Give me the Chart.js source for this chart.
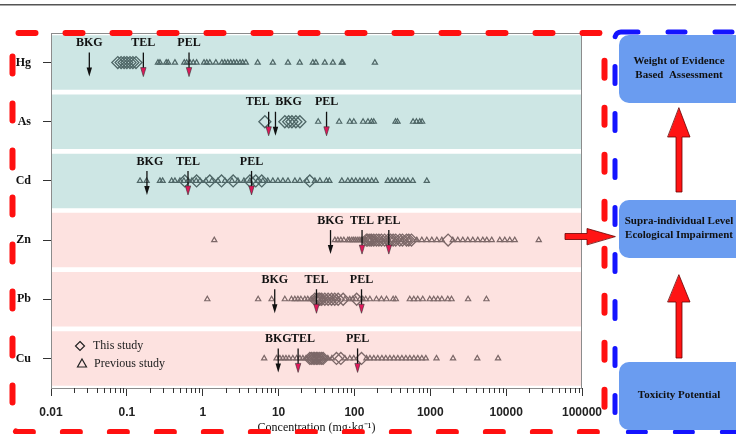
<!DOCTYPE html>
<html><head><meta charset="utf-8">
<script src="https://cdn.jsdelivr.net/npm/chart.js@4"></script>
<style>html,body{margin:0;padding:0;background:#fff;overflow:hidden}#wrap{position:relative;width:736px;height:434px}</style>
</head><body><div id="wrap"><canvas id="c" width="736" height="434"></canvas></div>
<script>
const metals = ['Hg','As','Cd','Zn','Pb','Cu'];

const hgThis = [0.076, 0.084, 0.092, 0.1, 0.11, 0.12, 0.132];
const hgPrev = [0.257, 0.273, 0.33, 0.35, 0.43, 0.571, 0.614, 0.678, 0.75, 0.83, 1.04, 1.13, 1.24, 1.49, 1.79, 1.95, 2.14, 2.34, 2.56, 2.8, 3.1, 3.36, 3.7, 5.3, 8.4, 13.3, 19, 28.3, 31, 40.7, 52, 68, 70, 186];
const asThis = [6.6, 12.1, 13.6, 15.0, 16.9, 19.1];
const asPrev = [33.3, 62.9, 86.9, 98.2, 130, 151, 168, 180, 348, 370, 593, 657, 727, 780];
const cdThis = [0.58, 0.83, 1.24, 1.77, 2.52, 4.19, 5.0, 6.0, 25.8];
const cdPrev = [0.149, 0.182, 0.273, 0.296, 0.389, 0.43, 0.5, 0.565, 0.638, 0.72, 0.82, 0.919, 1.1, 1.32, 1.59, 1.96, 2.43, 2.91, 3.49, 4.19, 5.3, 6.2, 7.2, 8.4, 9.8, 11.4, 13.3, 16.4, 19.1, 23.6, 30.1, 35, 42.7, 46.7, 68.2, 81.8, 92.4, 104, 118, 133, 150, 169, 191, 275, 311, 351, 396, 448, 505, 588, 899];
const znThis = [144, 150, 160, 168, 180, 195, 210, 227, 250, 278, 300, 324, 350, 396, 430, 486, 520, 565, 1718];
const znPrev = [1.42, 55.2, 60.4, 66.2, 72.5, 81.8, 86, 92.4, 98, 104, 111, 118, 125, 133, 140, 160, 190, 230, 280, 340, 420, 520, 664, 773, 899, 1047, 1219, 1419, 1978, 2302, 2680, 3119, 3631, 4227, 4920, 5550, 6457, 8241, 9590, 11150, 12980, 26900];
const pbThis = [30.1, 32, 34, 35, 37, 40.7, 45, 49.9, 55, 61, 71, 107];
const pbPrev = [1.15, 5.38, 8.1, 12.1, 14.8, 16.4, 18, 19.7, 22.2, 24.3, 27, 30, 33, 38, 44, 52, 60, 75, 87, 95, 104, 118, 129, 141, 160, 195, 227, 265, 324, 351, 537, 607, 684, 796, 984, 1112, 1256, 1419, 1702, 1906, 3150, 5500];
const cuThis = [25.8, 27, 28.6, 30, 31.6, 33, 35, 37, 38.7, 58, 66.2, 124];
const cuPrev = [6.46, 9.4, 10.4, 11.4, 12.5, 13.7, 15.4, 17.3, 19.1, 20.9, 23, 26, 30, 34, 38, 44.6, 50.4, 74.8, 86.9, 98, 144, 160, 180, 203, 230, 259, 293, 330, 373, 422, 476, 537, 607, 684, 773, 873, 1207, 1995, 4160, 7820];

const bkg = [0.032, 9.1, 0.184, 48.4, 8.9, 9.9];
const tel = [0.165, 7.4, 0.64, 126, 31.6, 18.1];
const pel = [0.66, 42.9, 4.4, 284, 124, 110];
const guideNames = ['BKG', 'TEL', 'PEL'];

const xTickValues = [0.01, 0.1, 1, 10, 100, 1000, 10000, 100000];
const xTickLabels = ['0.01', '0.1', '1', '10', '100', '1000', '10000', '100000'];
const xTitle = 'Concentration (mg\u00B7kg\u207B\u00B9)';
const legendLabels = ['This study', 'Previous study'];
const flowLabels = [['Weight of Evidence', 'Based  Assessment'], ['Supra-individual Level', 'Ecological Impairment'], ['Toxicity Potential']];

const thisStudy = [hgThis, asThis, cdThis, znThis, pbThis, cuThis];
const prevStudy = [hgPrev, asPrev, cdPrev, znPrev, pbPrev, cuPrev];
const bandColors = ['#cde6e4', '#cde6e4', '#cde6e4', '#fde2e0', '#fde2e0', '#fde2e0'];
const markerColors = ['#4f6767', '#4f6767', '#4f6767', '#7c6868', '#7c6868', '#7c6868'];
const labelShift = { As: { TEL: -11, BKG: 13 }, Cu: { TEL: 5 }, Cd: { BKG: 3 } };

const SERIF = '"Liberation Serif", "Times New Roman", serif';
const SANS = '"Liberation Sans", Arial, sans-serif';

const xAllTicks = [];
xTickValues.forEach((d, i) => {
  xAllTicks.push(d);
  if (i < xTickValues.length - 1) for (let k = 2; k <= 9; k++) xAllTicks.push(parseFloat((d * k).toPrecision(4)));
});

const datasets = [];
metals.forEach((m, i) => {
  datasets.push({
    type: 'scatter', label: m + ' this study',
    data: thisStudy[i].map(v => ({ x: v, y: m })),
    pointStyle: 'rectRot', pointRadius: 6, pointBorderWidth: 1.3,
    pointBorderColor: markerColors[i], pointBackgroundColor: 'rgba(0,0,0,0)',
    order: 1
  });
  datasets.push({
    type: 'scatter', label: m + ' previous study',
    data: prevStudy[i].map(v => ({ x: v, y: m })),
    pointStyle: 'triangle', pointRadius: 3, pointBorderWidth: 1.2,
    pointBorderColor: markerColors[i], pointBackgroundColor: 'rgba(0,0,0,0)',
    order: 2
  });
});
datasets.push({
  type: 'bar', indexAxis: 'y', label: 'band',
  data: metals.map(() => [xTickValues[0], xTickValues[xTickValues.length - 1]]),
  backgroundColor: bandColors, borderWidth: 0,
  barPercentage: 0.92, categoryPercentage: 1, order: 10
});

function rr(ctx, x, y, w, h, r) {
  ctx.beginPath();
  ctx.moveTo(x + r, y);
  ctx.lineTo(x + w - r, y); ctx.arcTo(x + w, y, x + w, y + r, r);
  ctx.lineTo(x + w, y + h - r); ctx.arcTo(x + w, y + h, x + w - r, y + h, r);
  ctx.lineTo(x + r, y + h); ctx.arcTo(x, y + h, x, y + h - r, r);
  ctx.lineTo(x, y + r); ctx.arcTo(x, y, x + r, y, r);
  ctx.closePath();
}
function upArrow(ctx, cx, tip, headBase, bottom) {
  ctx.beginPath();
  ctx.moveTo(cx, tip);
  ctx.lineTo(cx + 11, headBase); ctx.lineTo(cx + 3, headBase); ctx.lineTo(cx + 3, bottom);
  ctx.lineTo(cx - 3, bottom); ctx.lineTo(cx - 3, headBase); ctx.lineTo(cx - 11, headBase);
  ctx.closePath();
  ctx.fillStyle = '#ff1414'; ctx.fill();
  ctx.strokeStyle = '#6a0000'; ctx.lineWidth = 0.8; ctx.stroke();
}

const deco = {
  id: 'deco',
  afterDatasetsDraw(chart) {
    const ctx = chart.ctx, ca = chart.chartArea;
    const xs = chart.scales.x, ys = chart.scales.y;
    ctx.save();
    ctx.strokeStyle = '#8c8c8c'; ctx.lineWidth = 1;
    ctx.strokeRect(ca.left + 0.5, ca.top + 0.5, ca.right - ca.left - 1, ca.bottom - ca.top);
    ctx.strokeStyle = '#333'; ctx.lineWidth = 1;
    xAllTicks.forEach(v => {
      if (xTickValues.includes(v)) return;
      const px = Math.round(xs.getPixelForValue(v)) + 0.5;
      ctx.beginPath(); ctx.moveTo(px, ca.bottom); ctx.lineTo(px, ca.bottom + 5); ctx.stroke();
    });
    metals.forEach((m, i) => {
      const yc = ys.getPixelForValue(i);
      [bkg, tel, pel].forEach((arr, k) => {
        const name = guideNames[k];
        const x = xs.getPixelForValue(arr[i]);
        ctx.strokeStyle = '#111'; ctx.lineWidth = 1.3;
        ctx.beginPath(); ctx.moveTo(x, yc - 10); ctx.lineTo(x, yc + 6); ctx.stroke();
        ctx.beginPath();
        ctx.moveTo(x - 2.7, yc + 5); ctx.lineTo(x + 2.7, yc + 5); ctx.lineTo(x, yc + 14); ctx.closePath();
        ctx.fillStyle = k === 0 ? '#111' : '#e0185a'; ctx.fill();
        if (k > 0) { ctx.strokeStyle = '#333'; ctx.lineWidth = 0.6; ctx.stroke(); }
        const dx = (labelShift[m] && labelShift[m][name]) || 0;
        ctx.fillStyle = '#111'; ctx.font = 'bold 12px ' + SERIF;
        ctx.textAlign = 'center'; ctx.textBaseline = 'middle';
        ctx.fillText(name, x + dx, yc - 19.5);
      });
    });
    const lx = ca.left + 29, ly1 = ca.bottom - 42, ly2 = ca.bottom - 24;
    ctx.strokeStyle = '#222'; ctx.lineWidth = 1.2;
    ctx.beginPath(); ctx.moveTo(lx, ly1 - 4.5); ctx.lineTo(lx + 4.5, ly1); ctx.lineTo(lx, ly1 + 4.5); ctx.lineTo(lx - 4.5, ly1); ctx.closePath(); ctx.stroke();
    ctx.beginPath(); ctx.moveTo(lx + 2, ly2 - 5); ctx.lineTo(lx + 6.5, ly2 + 3); ctx.lineTo(lx - 2.5, ly2 + 3); ctx.closePath(); ctx.stroke();
    ctx.fillStyle = '#222'; ctx.font = '12px ' + SERIF; ctx.textAlign = 'left'; ctx.textBaseline = 'middle';
    ctx.fillText(legendLabels[0], lx + 13, ly1);
    ctx.fillText(legendLabels[1], lx + 14, ly2);
    ctx.restore();
  },
  afterDraw(chart) {
    const ctx = chart.ctx;
    ctx.save();
    ctx.fillStyle = '#555'; ctx.fillRect(0, 4, 736, 1.5);
    ctx.lineCap = 'round';
    ctx.setLineDash([17, 30]);
    ctx.strokeStyle = '#ff1010'; ctx.lineWidth = 6;
    rr(ctx, 12.5, 33, 592, 399, 6); ctx.stroke();
    ctx.strokeStyle = '#1414ff'; ctx.lineWidth = 5;
    rr(ctx, 615, 32, 150, 400, 6); ctx.stroke();
    ctx.setLineDash([]);
    const boxes = [[35, 103], [200, 258], [362, 430]];
    boxes.forEach((b, i) => {
      rr(ctx, 619, b[0], 130, b[1] - b[0], 10);
      ctx.fillStyle = '#6a9cf0'; ctx.fill();
      const lines = flowLabels[i];
      const cy = (b[0] + b[1]) / 2 - 1;
      ctx.fillStyle = '#111'; ctx.font = 'bold 11px ' + SERIF; ctx.textAlign = 'center'; ctx.textBaseline = 'middle';
      lines.forEach((t, j) => ctx.fillText(t, 679, cy + (j - (lines.length - 1) / 2) * 14));
    });
    upArrow(ctx, 679, 108, 137, 192);
    upArrow(ctx, 679, 275, 302, 358);
    ctx.beginPath();
    const hy = 236.5;
    ctx.moveTo(615, hy); ctx.lineTo(587, hy - 8); ctx.lineTo(587, hy - 3); ctx.lineTo(565, hy - 3);
    ctx.lineTo(565, hy + 3); ctx.lineTo(587, hy + 3); ctx.lineTo(587, hy + 8); ctx.closePath();
    ctx.fillStyle = '#ff1414'; ctx.fill();
    ctx.strokeStyle = '#6a0000'; ctx.lineWidth = 0.8; ctx.stroke();
    ctx.restore();
  }
};

new Chart(document.getElementById('c'), {
  type: 'scatter',
  data: { labels: metals, datasets },
  options: {
    responsive: false, animation: false, devicePixelRatio: 1,
    events: [],
    layout: { padding: { left: 0, right: 154, top: 33, bottom: 0 } },
    plugins: { legend: { display: false }, tooltip: { enabled: false } },
    scales: {
      x: {
        type: 'logarithmic', min: xTickValues[0], max: xTickValues[xTickValues.length - 1],
        afterBuildTicks: axis => { axis.ticks = xTickValues.map(v => ({ value: v, major: true })); },
        afterFit: s => { s.height = 46; },
        border: { display: false },
        grid: { drawOnChartArea: false, drawTicks: true, tickLength: 8, tickColor: '#333', tickWidth: 1 },
        ticks: {
          autoSkip: false, maxRotation: 0, minRotation: 0, padding: 9,
          color: '#222', font: { family: SANS, size: 12, weight: 'bold' },
          callback: v => { const i = xTickValues.indexOf(v); return i >= 0 ? xTickLabels[i] : ''; }
        },
        title: { display: true, text: xTitle, color: '#111', font: { family: SERIF, size: 12, lineHeight: 1 }, padding: 0 }
      },
      y: {
        type: 'category', offset: true,
        afterFit: s => { s.width = 51; },
        border: { display: false },
        grid: { drawOnChartArea: false, offset: false, tickLength: 8, tickColor: '#333' },
        ticks: { autoSkip: false, padding: 12, color: '#111', font: { family: SERIF, size: 12, weight: 'bold' } }
      }
    }
  },
  plugins: [deco]
});
</script></body></html>
